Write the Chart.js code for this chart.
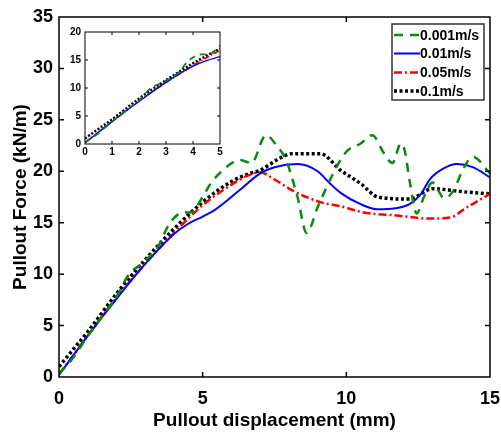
<!DOCTYPE html>
<html>
<head>
<meta charset="utf-8">
<script src="https://cdn.jsdelivr.net/npm/chart.js@4"></script>
<style>
  html, body { margin: 0; padding: 0; background: #fff; }
  #wrap { position: relative; width: 501px; height: 432px; }
  #main { position: absolute; left: 0; top: 0; }
  #inset { position: absolute; left: 60px; top: 20px; }
</style>
</head>
<body>
<div id="wrap">
  <canvas id="main" width="501" height="432"></canvas>
  <canvas id="inset" width="165" height="145"></canvas>
</div>
<script>
// ---- data ----
const seriesNames = ['0.001m/s', '0.01m/s', '0.05m/s', '0.1m/s'];

const xGreen = [0, 0.5, 1, 1.5, 2, 2.44, 2.82, 3.45, 3.82, 4.32, 4.57, 5, 5.25, 5.7, 6.3, 6.7, 7.2, 7.6, 7.9, 8.3, 8.62, 9.0, 9.6, 10.0, 10.5, 10.9, 11.3, 11.6, 11.9, 12.05, 12.2, 12.45, 12.7, 13.0, 13.4, 13.7, 14.1, 14.4, 15];
const yGreen = [0.3, 1.9, 4.0, 5.9, 7.8, 10.0, 10.9, 12.7, 14.8, 16.0, 16.0, 17.5, 18.7, 20.1, 21.1, 20.8, 23.5, 22.4, 21.1, 17.5, 14.0, 16.5, 20.1, 21.9, 22.7, 23.5, 21.8, 20.8, 22.7, 21.8, 19.1, 15.9, 17.5, 18.9, 17.4, 18.0, 20.4, 21.4, 19.8];

const xBlue = [0, 0.5, 1, 2, 3, 4, 4.5, 5, 5.4, 6.3, 7, 7.5, 8.3, 9, 9.4, 9.8, 10.5, 11.1, 11.7, 12.2, 12.6, 12.9, 13.4, 13.85, 14.4, 15];
const yBlue = [0.2, 2.1, 4.0, 7.6, 11.0, 13.9, 14.9, 15.6, 16.2, 18.2, 19.8, 20.4, 20.7, 20.0, 18.9, 17.9, 16.8, 16.3, 16.4, 16.8, 17.8, 19.2, 20.3, 20.7, 20.4, 19.4];

const xRed = [0, 0.5, 1, 2, 3, 4, 5, 6, 6.5, 7, 7.5, 8.15, 9.1, 9.8, 10.6, 11.75, 12.9, 13.6, 14.2, 15];
const yRed = [0.3, 2.1, 4.0, 7.7, 11.0, 14.0, 16.7, 18.7, 19.5, 19.9, 19.2, 18.1, 17.0, 16.6, 16.0, 15.7, 15.4, 15.5, 16.5, 17.8];

const xBlack = [0, 0.5, 1, 2, 3, 4, 5, 6, 6.65, 7.0, 7.7, 8.1, 9.1, 9.8, 10.5, 11.1, 12.2, 13.0, 14.1, 15];
const yBlack = [1.0, 2.7, 4.4, 8.1, 11.4, 14.4, 17.0, 19.0, 19.8, 20.1, 21.3, 21.7, 21.7, 20.1, 18.8, 17.5, 17.3, 18.3, 18.0, 17.8];

const mainXTicks = [0, 5, 10, 15];
const mainYTicks = [0, 5, 10, 15, 20, 25, 30, 35];
const insetXTicks = [0, 1, 2, 3, 4, 5];
const insetYTicks = [0, 5, 10, 15, 20];

const FONT = "'Liberation Sans', Arial, sans-serif";

function pts(xs, ys) { return xs.map((x, i) => ({ x: x, y: ys[i] })); }

function makeDatasets(scale) {
  return [
    { label: seriesNames[0], data: pts(xGreen, yGreen), borderColor: '#0a8a0a', borderWidth: 2.5 * scale, borderDash: [9 * scale, 7 * scale] },
    { label: seriesNames[1], data: pts(xBlue, yBlue), borderColor: '#0000ff', borderWidth: 2 * scale, borderDash: [] },
    { label: seriesNames[2], data: pts(xRed, yRed), borderColor: '#ff0000', borderWidth: 2.5 * scale, borderDash: [8 * scale, 3 * scale, 2 * scale, 3 * scale] },
    { label: seriesNames[3], data: pts(xBlack, yBlack), borderColor: '#000000', borderWidth: 3.5 * scale, borderDash: [3 * scale, 2.5 * scale] }
  ].map(d => Object.assign(d, { pointRadius: 0, fill: false, cubicInterpolationMode: 'monotone', tension: 0.4 }));
}

function frameTicksPlugin(len, lw, bg) {
  return {
    id: 'frameTicks',
    beforeDatasetsDraw(chart) {
      if (!bg) return;
      const { ctx, chartArea: a } = chart;
      ctx.save();
      ctx.fillStyle = '#fff';
      ctx.fillRect(a.left, a.top, a.right - a.left, a.bottom - a.top);
      ctx.restore();
    },
    afterDatasetsDraw(chart) {
      const { ctx, chartArea: a, scales } = chart;
      const x = scales.x, y = scales.y;
      ctx.save();
      ctx.strokeStyle = '#000';
      ctx.lineWidth = lw;
      ctx.beginPath();
      x.ticks.forEach(t => {
        const px = x.getPixelForValue(t.value);
        if (px <= a.left + 1 || px >= a.right - 1) return;
        ctx.moveTo(px, a.bottom); ctx.lineTo(px, a.bottom - len);
        ctx.moveTo(px, a.top); ctx.lineTo(px, a.top + len);
      });
      y.ticks.forEach(t => {
        const py = y.getPixelForValue(t.value);
        if (py <= a.top + 1 || py >= a.bottom - 1) return;
        ctx.moveTo(a.left, py); ctx.lineTo(a.left + len, py);
        ctx.moveTo(a.right, py); ctx.lineTo(a.right - len, py);
      });
      ctx.stroke();
      ctx.strokeRect(a.left, a.top, a.right - a.left, a.bottom - a.top);
      ctx.restore();
    }
  };
}

const legendPlugin = {
  id: 'boxLegend',
  afterDraw(chart) {
    const ctx = chart.ctx;
    const bx = 392, by = 24, bw = 92, bh = 76;
    ctx.save();
    ctx.fillStyle = '#fff';
    ctx.fillRect(bx, by, bw, bh);
    ctx.strokeStyle = '#333';
    ctx.lineWidth = 1.5;
    ctx.strokeRect(bx, by, bw, bh);
    const rows = [35, 53.5, 72.5, 91];
    chart.data.datasets.forEach((ds, i) => {
      const yy = rows[i];
      ctx.beginPath();
      ctx.strokeStyle = ds.borderColor;
      ctx.lineWidth = ds.borderWidth;
      ctx.setLineDash(ds.borderDash || []);
      ctx.moveTo(394, yy);
      ctx.lineTo(420, yy);
      ctx.stroke();
      ctx.setLineDash([]);
      ctx.fillStyle = '#000';
      ctx.font = 'bold 14px ' + FONT;
      ctx.textBaseline = 'middle';
      ctx.textAlign = 'left';
      ctx.fillText(ds.label, 420, yy + 1);
    });
    ctx.restore();
  }
};

function noSidePad(s) { s.paddingLeft = 0; s.paddingRight = 0; }

Chart.defaults.font.family = FONT;
Chart.defaults.color = '#000';

new Chart(document.getElementById('main'), {
  type: 'line',
  data: { datasets: makeDatasets(1) },
  options: {
    responsive: false,
    animation: false,
    events: [],
    layout: { padding: { top: 17, right: 11, left: 0, bottom: 0 } },
    plugins: { legend: { display: false }, tooltip: { enabled: false } },
    scales: {
      x: {
        type: 'linear', min: 0, max: 15,
        afterBuildTicks: s => { s.ticks = mainXTicks.map(v => ({ value: v })); },
        afterFit: s => { s.height = 55; noSidePad(s); },
        grid: { display: false, drawTicks: false },
        border: { display: false },
        ticks: { padding: 11, font: { size: 18, weight: 'bold' }, color: '#000', maxRotation: 0 },
        title: { display: true, text: 'Pullout displacement (mm)', font: { size: 19, weight: 'bold' }, color: '#000', padding: { top: 0, bottom: 0 } }
      },
      y: {
        type: 'linear', min: 0, max: 35,
        afterBuildTicks: s => { s.ticks = mainYTicks.map(v => ({ value: v })); },
        afterFit: s => { s.width = 59; s.paddingTop = 0; s.paddingBottom = 0; },
        grid: { display: false, drawTicks: false },
        border: { display: false },
        ticks: { padding: 6, font: { size: 18, weight: 'bold' }, color: '#000' },
        title: { display: true, text: 'Pullout Force (kN/m)', font: { size: 19, weight: 'bold' }, color: '#000', padding: { top: 9, bottom: 0 } }
      }
    }
  },
  plugins: [frameTicksPlugin(5, 1.5, false), legendPlugin]
});

new Chart(document.getElementById('inset'), {
  type: 'line',
  data: { datasets: makeDatasets(0.7) },
  options: {
    responsive: false,
    animation: false,
    events: [],
    layout: { padding: { top: 12, right: 5, left: 0, bottom: 0 } },
    plugins: { legend: { display: false }, tooltip: { enabled: false } },
    scales: {
      x: {
        type: 'linear', min: 0, max: 5,
        afterBuildTicks: s => { s.ticks = insetXTicks.map(v => ({ value: v })); },
        afterFit: s => { s.height = 21; noSidePad(s); },
        grid: { display: false, drawTicks: false },
        border: { display: false },
        ticks: { padding: 2, font: { size: 10, weight: 'bold' }, color: '#000', maxRotation: 0 }
      },
      y: {
        type: 'linear', min: 0, max: 20,
        afterBuildTicks: s => { s.ticks = insetYTicks.map(v => ({ value: v })); },
        afterFit: s => { s.width = 25; s.paddingTop = 0; s.paddingBottom = 0; },
        grid: { display: false, drawTicks: false },
        border: { display: false },
        ticks: { padding: 4, font: { size: 10, weight: 'bold' }, color: '#000' }
      }
    }
  },
  plugins: [frameTicksPlugin(3, 1, true)]
});
</script>
</body>
</html>
